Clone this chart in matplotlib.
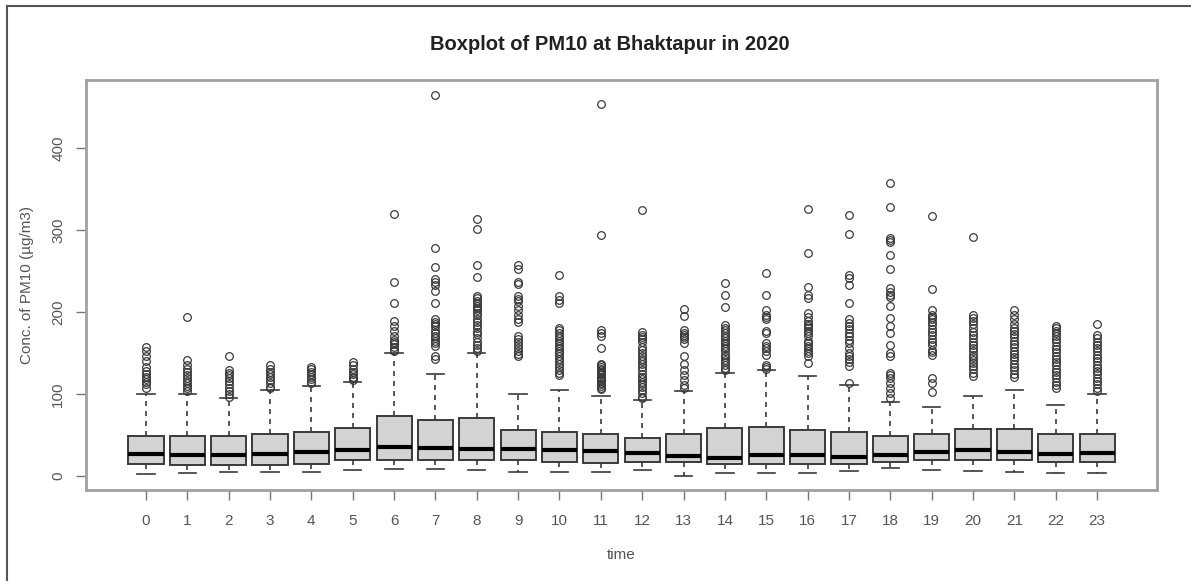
import numpy as np
import matplotlib.pyplot as plt
from matplotlib.lines import Line2D

plt.rcParams['font.family'] = ['Liberation Sans', 'DejaVu Sans']

# hours of the day
hours = list(range(24))

# box statistics (µg/m3)
whis_low = [2.4, 3.3, 4.5, 4.5, 4.5, 7.3, 8.1, 8.1, 7.3, 5.3, 5.3, 4.5,
            7.3, 0.0, 4.0, 4.0, 4.0, 6.5, 9.3, 7.3, 6.1, 5.3, 4.0, 4.0]
q1 = [14.6, 13.8, 13.8, 13.8, 14.6, 19.5, 19.5, 19.5, 19.0, 19.0, 17.5, 16.3,
      17.5, 17.5, 14.6, 14.6, 14.2, 14.2, 17.5, 19.5, 19.5, 19.5, 16.7, 16.7]
median = [26.8, 25.6, 25.6, 26.8, 28.8, 31.7, 35.0, 33.7, 32.5, 32.5, 31.7, 30.5,
          27.6, 24.4, 22.4, 25.6, 25.6, 23.6, 25.6, 29.7, 31.7, 28.8, 26.8, 27.6]
q3 = [49.0, 49.0, 49.0, 51.0, 53.7, 59.0, 73.6, 68.0, 71.0, 56.0, 54.0, 51.0,
      46.7, 51.0, 59.0, 60.0, 56.0, 54.0, 48.8, 51.0, 58.0, 58.0, 51.0, 51.0]
whis_high = [100, 100, 95.5, 105, 110, 115, 150, 124, 150, 100, 105, 98,
             92.7, 104, 126, 129, 122, 111, 90.7, 84.5, 97.6, 105, 86.6, 100]

outliers = [
    [158, 152, 146, 140, 133, 128, 124, 121, 118, 115, 112, 108],
    [194, 141, 136, 131, 127, 123, 119, 116, 113, 110, 107, 104],
    [147, 129, 126, 123, 120, 116, 112, 108, 104, 100, 97],
    [136, 131, 127, 124, 121, 117, 113, 109, 107],
    [133, 130, 127, 124, 121, 118, 115, 113],
    [139, 135, 131, 127, 124, 121, 119, 117],
    [320, 237, 211, 189, 183, 177, 171, 166, 164, 161, 157, 154, 152],
    [465, 278, 255, 240, 237, 233, 226, 211, 191, 188, 185, 183, 178, 175, 171,
     168, 165, 162, 159, 146, 143],
    [314, 301, 257, 243, 220, 217, 214, 211, 208, 205, 202, 199, 196, 192, 188,
     184, 180, 176, 173, 168, 164, 160, 156, 152],
    [257, 252, 237, 234, 220, 216, 213, 208, 203, 197, 191, 188, 171, 167, 164,
     160, 156, 152, 149, 146],
    [245, 220, 215, 211, 181, 178, 174, 171, 168, 165, 162, 159, 156, 153, 150,
     147, 143, 140, 137, 133, 129, 126, 123],
    [454, 294, 178, 174, 171, 156, 137, 135, 133, 131, 129, 127, 126, 124, 121,
     119, 118, 116, 114, 112, 110, 108, 106],
    [324, 176, 172, 169, 167, 163, 158, 154, 150, 147, 143, 140, 137, 133, 129,
     125, 121, 118, 115, 112, 109, 105, 101, 97, 95],
    [204, 195, 178, 175, 172, 170, 167, 162, 146, 137, 129, 123, 117, 111, 107],
    [236, 221, 206, 184, 181, 178, 174, 171, 168, 165, 162, 159, 156, 152, 148,
     145, 142, 139, 136, 132, 129],
    [248, 221, 203, 197, 194, 191, 177, 175, 162, 159, 156, 152, 148, 136, 133, 131],
    [326, 272, 231, 221, 217, 199, 194, 189, 186, 183, 180, 177, 174, 171, 165,
     162, 159, 156, 153, 150, 146, 138],
    [318, 295, 245, 242, 233, 211, 191, 187, 183, 179, 175, 171, 166, 162, 156,
     150, 146, 143, 139, 134, 113],
    [358, 328, 290, 288, 286, 270, 253, 229, 225, 221, 218, 207, 193, 183, 174,
     160, 150, 146, 126, 123, 119, 113, 107, 101, 95],
    [317, 228, 203, 197, 194, 191, 188, 184, 179, 176, 172, 167, 164, 160, 154,
     151, 148, 119, 113, 103],
    [292, 196, 193, 189, 185, 180, 176, 172, 168, 164, 160, 156, 152, 148, 145,
     142, 138, 134, 130, 126, 122],
    [202, 197, 192, 185, 181, 177, 173, 169, 165, 161, 157, 153, 149, 145, 141,
     137, 133, 129, 125, 121],
    [183, 180, 177, 174, 171, 167, 163, 159, 155, 151, 147, 143, 139, 135, 131,
     127, 123, 119, 115, 111, 107],
    [185, 172, 168, 164, 160, 156, 152, 148, 144, 140, 136, 132, 128, 124, 120,
     116, 112, 108, 104],
]

stats = []
for i in range(len(hours)):
    stats.append({'whislo': whis_low[i], 'q1': q1[i], 'med': median[i],
                  'q3': q3[i], 'whishi': whis_high[i], 'fliers': outliers[i]})

fig = plt.figure(figsize=(11.91, 5.81), dpi=100)
ax = fig.add_axes([0.0722, 0.1566, 0.8993, 0.7057])

edge = '#3a3a3a'
ax.bxp(stats, positions=hours, widths=0.85, patch_artist=True,
       boxprops=dict(facecolor='#d3d3d3', edgecolor=edge, linewidth=1.4),
       medianprops=dict(color='black', linewidth=3),
       whiskerprops=dict(color=edge, linewidth=1.2, linestyle=(0, (3, 3))),
       capprops=dict(color=edge, linewidth=1.2),
       flierprops=dict(marker='o', markerfacecolor='none', markeredgecolor=edge,
                       markersize=5.5, markeredgewidth=0.9),
       capwidths=0.42)

ax.set_xlim(-1.45, 24.45)
ax.set_ylim(-17, 483)

ax.set_xticks(hours)
ax.set_xticklabels([str(h) for h in hours])
ax.set_yticks([0, 100, 200, 300, 400])
ax.set_yticklabels(['0', '100', '200', '300', '400'], rotation=90, va='center')
ax.tick_params(axis='both', colors='#777777', labelcolor='#555555',
               labelsize=11, length=7, width=1, direction='out')
ax.tick_params(axis='x', pad=10)
ax.tick_params(axis='y', pad=8)

for sp in ax.spines.values():
    sp.set_color('#a0a0a0')
    sp.set_linewidth(2)

ax.set_xlabel('time', fontsize=11, color='#555555', labelpad=15)
ax.set_ylabel('Conc. of PM10 (µg/m3)', fontsize=11, color='#555555', labelpad=12)
fig.text(0.512, 0.924, 'Boxplot of PM10 at Bhaktapur in 2020', ha='center',
         va='center', fontsize=14.5, fontweight='bold', color='#222222')

# outer frame of the exported picture
fig.add_artist(Line2D([7 / 1191, 7 / 1191], [0, 1 - 6 / 581],
                      transform=fig.transFigure, color='#555555', linewidth=1.5))
fig.add_artist(Line2D([7 / 1191, 1], [1 - 6 / 581, 1 - 6 / 581],
                      transform=fig.transFigure, color='#555555', linewidth=1.5))

fig.savefig('out.png', dpi=100)
